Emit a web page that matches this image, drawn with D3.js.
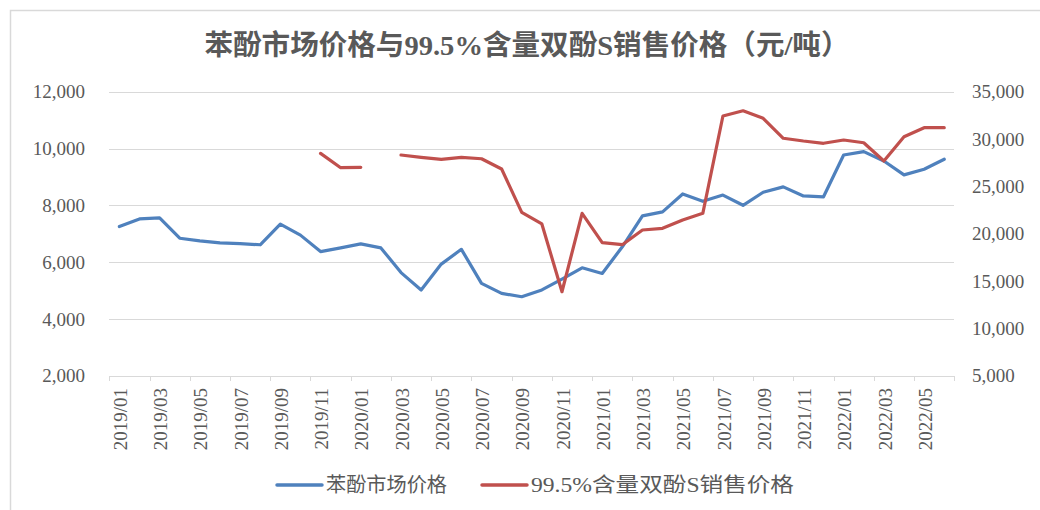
<!DOCTYPE html>
<html>
  <head>
    <meta charset="utf-8">
    <title>苯酚市场价格与99.5%含量双酚S销售价格</title>
    <style>
      body { margin: 0; background: #fff; }
      svg text { font-family: "Liberation Serif", "Noto Sans CJK SC", serif; fill: #595959; }
      .grid line { stroke: #d9d9d9; stroke-width: 1; shape-rendering: crispEdges; }
      .line { fill: none; stroke-width: 3.2; stroke-linejoin: round; stroke-linecap: round; }
    </style>
  </head>
  <body>
  <svg id="chart" width="1040" height="510"></svg>
  <script src="https://d3js.org/d3.v7.min.js"></script>
  <script>
    // months (categories)
    var months = ["2019/01","2019/02","2019/03","2019/04","2019/05","2019/06","2019/07","2019/08","2019/09","2019/10","2019/11","2019/12",
      "2020/01","2020/02","2020/03","2020/04","2020/05","2020/06","2020/07","2020/08","2020/09","2020/10","2020/11","2020/12",
      "2021/01","2021/02","2021/03","2021/04","2021/05","2021/06","2021/07","2021/08","2021/09","2021/10","2021/11","2021/12",
      "2022/01","2022/02","2022/03","2022/04","2022/05","2022/06"];

    // 苯酚市场价格 (left axis)
    var phenol = [7250,7520,7560,6840,6750,6680,6650,6610,7340,6950,6370,6500,
      6640,6500,5630,5020,5930,6450,5250,4900,4780,5020,5400,5800,
      5600,6540,7630,7770,8400,8140,8360,8000,8460,8650,8330,8300,
      9770,9890,9560,9070,9270,9620];

    // 99.5%含量双酚S销售价格 (right axis), null = no data
    var bps = [null,null,null,null,null,null,null,null,null,null,28490,26970,
      27010,null,28310,28070,27860,28070,27920,26830,22260,21030,13870,22150,
      19050,18840,20390,20570,21450,22150,32430,32990,32190,30080,29790,29550,
      29900,29610,27680,30250,31200,31200];

    var leftTicks = [2000,4000,6000,8000,10000,12000];
    var rightTicks = [5000,10000,15000,20000,25000,30000,35000];
    var seriesNames = ["苯酚市场价格", "99.5%含量双酚S销售价格"];
    var colors = ["#4f81bd", "#c0504d"];

    var svg = d3.select("#chart");
    var fmt = d3.format(",");

    // outer frame
    svg.append("rect")
      .attr("x", 10.5).attr("y", 10.5)
      .attr("width", 1040).attr("height", 520)
      .attr("fill", "none").attr("stroke", "#d9d9d9").attr("stroke-width", 1.5);

    var plot = {left: 109.3, right: 954.3, top: 91.7, bottom: 375.7};

    var x = d3.scaleBand().domain(months).range([plot.left, plot.right]).padding(0);
    var cx = function(i) { return x(months[i]) + x.bandwidth() / 2; };
    var yL = d3.scaleLinear().domain([2000, 12000]).range([plot.bottom, plot.top]);
    var yR = d3.scaleLinear().domain([5000, 35000]).range([plot.bottom, plot.top]);

    // title
    svg.append("text")
      .attr("x", 527).attr("y", 55)
      .attr("text-anchor", "middle")
      .attr("textLength", 645).attr("lengthAdjust", "spacingAndGlyphs")
      .style("font-size", "28px").style("font-weight", "600")
      .text("苯酚市场价格与99.5%含量双酚S销售价格（元/吨）");

    // gridlines
    svg.append("g").attr("class", "grid")
      .selectAll("line").data(leftTicks.slice(1)).enter().append("line")
      .attr("x1", plot.left).attr("x2", plot.right)
      .attr("y1", function(d) { return Math.round(yL(d)) + 0.5; })
      .attr("y2", function(d) { return Math.round(yL(d)) + 0.5; });

    // left axis labels
    svg.append("g").selectAll("text").data(leftTicks).enter().append("text")
      .attr("x", 85).attr("y", function(d) { return yL(d); })
      .attr("dy", "0.35em").attr("text-anchor", "end")
      .style("font-size", "19px")
      .text(fmt);

    // right axis labels
    svg.append("g").selectAll("text").data(rightTicks).enter().append("text")
      .attr("x", 972).attr("y", function(d) { return yR(d); })
      .attr("dy", "0.35em").attr("text-anchor", "start")
      .style("font-size", "19px")
      .text(fmt);

    // x axis
    var xAxis = svg.append("g")
      .attr("transform", "translate(0," + Math.round(plot.bottom) + ")");
    xAxis.append("line")
      .attr("x1", plot.left).attr("x2", plot.right)
      .attr("y1", 0.5).attr("y2", 0.5)
      .attr("stroke", "#d9d9d9");
    var tickIdx = d3.range(0, months.length + 1, 2);
    xAxis.selectAll(".tk").data(tickIdx).enter().append("line")
      .attr("x1", function(i) { return Math.round(plot.left + i * x.bandwidth()) + 0.5; })
      .attr("x2", function(i) { return Math.round(plot.left + i * x.bandwidth()) + 0.5; })
      .attr("y1", 0).attr("y2", 5)
      .attr("stroke", "#d9d9d9");
    xAxis.selectAll(".lbl").data(months.filter(function(m, i) { return i % 2 === 0; })).enter().append("text")
      .attr("transform", function(m) { return "translate(" + (x(m) + x.bandwidth() / 2 + 1) + ",12) rotate(-90)"; })
      .attr("dy", "0.35em").attr("text-anchor", "end")
      .style("font-size", "19px")
      .text(function(m) { return m; });

    // lines
    var lineL = d3.line()
      .x(function(d, i) { return cx(i); })
      .y(function(d) { return yL(d); });
    var lineR = d3.line()
      .defined(function(d) { return d !== null; })
      .x(function(d, i) { return cx(i); })
      .y(function(d) { return yR(d); });

    svg.append("path").datum(phenol).attr("class", "line")
      .attr("stroke", colors[0]).attr("d", lineL);
    svg.append("path").datum(bps).attr("class", "line")
      .attr("stroke", colors[1]).attr("d", lineR);

    // legend
    var legendX = [277, 482];
    var legendW = [121, 263];
    var legend = svg.append("g").selectAll("g").data(seriesNames).enter().append("g")
      .attr("transform", function(d, i) { return "translate(" + legendX[i] + ",485)"; });
    legend.append("line")
      .attr("x1", 0).attr("x2", 45).attr("y1", 0).attr("y2", 0)
      .attr("stroke", function(d, i) { return colors[i]; })
      .attr("stroke-width", 3.5).attr("stroke-linecap", "round");
    legend.append("text")
      .attr("x", 49).attr("dy", "0.35em")
      .attr("textLength", function(d, i) { return legendW[i]; })
      .attr("lengthAdjust", "spacingAndGlyphs")
      .style("font-size", "20px")
      .text(function(d) { return d; });
  </script>
  </body>
</html>
